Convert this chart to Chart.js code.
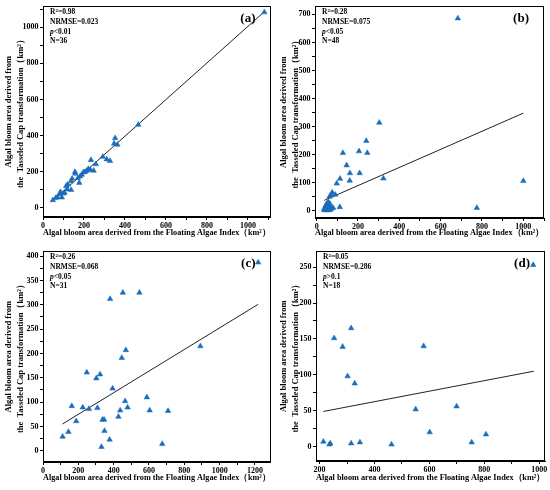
<!DOCTYPE html>
<html>
<head>
<meta charset="utf-8">
<script src="https://cdn.jsdelivr.net/npm/chart.js@4.4.1/dist/chart.umd.min.js"></script>
<style>
body { margin: 0; background: #fff; }
#wrap { position: relative; width: 550px; height: 490px; }
#wrap canvas { position: absolute; }
</style>
</head>
<body>
<div id="wrap">
  <canvas id="panelA" width="275" height="245" style="left:0;top:0"></canvas>
  <canvas id="panelB" width="275" height="245" style="left:275px;top:0"></canvas>
  <canvas id="panelC" width="275" height="245" style="left:0;top:245px"></canvas>
  <canvas id="panelD" width="275" height="245" style="left:275px;top:245px"></canvas>
</div>
<script>
// (a) FAI vs TCT areas, km2
const faiA = [48, 62, 70, 81, 85, 92, 105, 113, 118, 121, 137, 137, 142, 156, 158, 177, 181, 189, 197, 214, 221, 231, 234, 247, 258, 292, 311, 327, 347, 352, 363, 465, 1080, 100, 170, 205];
const tctA = [43, 55, 60, 76, 88, 58, 85, 121, 103, 130, 100, 148, 162, 199, 190, 139, 175, 184, 197, 206, 215, 211, 265, 206, 242, 283, 269, 260, 356, 386, 350, 460, 1082, 80, 165, 200];
const fitAx = [45, 1080];
const fitAy = [38, 1085];

// (b)
const faiB = [683, 303, 240, 245, 205, 127, 145, 161, 208, 160, 113, 97, 323, 1000, 775,
  112, 80, 75, 70, 62, 90,
  36, 38, 40, 41, 42, 44, 45, 46, 48, 49, 50, 51, 52, 53, 54, 55, 56, 57, 58, 59, 60, 62, 63, 64, 66, 68, 70];
const tctB = [686, 314, 249, 206, 212, 206, 162, 134, 134, 107, 114, 97, 115, 106, 10,
  13, 10, 65, 55, 50, 57,
  5, 2, 8, 14, 3, 10, 18, 6, 22, 2, 12, 27, 8, 16, 4, 24, 11, 30, 6, 19, 2, 14, 8, 25, 4, 12, 7];
const fitBx = [37, 1000];
const fitBy = [37, 348];

// (c)
const faiC = [111, 144, 188, 163, 225, 260, 308, 248, 302, 323, 337, 346, 348, 377, 331, 394, 446, 469, 465, 437, 479, 427, 588, 604, 708, 675, 380, 452, 546, 891, 1218];
const tctC = [29, 39, 61, 92, 89, 86, 88, 161, 149, 157, 64, 64, 41, 23, 8, 128, 191, 207, 102, 83, 89, 70, 110, 83, 82, 14, 312, 325, 325, 215, 387];
const fitCx = [110, 1218];
const fitCy = [55, 301];

// (d)
const faiD = [214, 236, 239, 253, 284, 302, 315, 315, 328, 347, 462, 550, 579, 601, 699, 754, 806, 978];
const tctD = [7, 3, 4.5, 151, 139, 98, 165, 4.5, 88, 6, 3, 52, 140, 20, 56, 6, 17, 253];
const fitDx = [214, 980];
const fitDy = [49, 105];

// tick positions and which of them carry a label
const ticksAx = [0, 100, 200, 300, 400, 500, 600, 700, 800, 900, 1000, 1100];
const labelsAx = [0, 200, 400, 600, 800, 1000];
const ticksAy = [0, 100, 200, 300, 400, 500, 600, 700, 800, 900, 1000, 1100];
const labelsAy = [0, 200, 400, 600, 800, 1000];
const ticksBx = [0, 100, 200, 300, 400, 500, 600, 700, 800, 900, 1000, 1100];
const labelsBx = [0, 200, 400, 600, 800, 1000];
const ticksBy = [0, 50, 100, 150, 200, 250, 300, 350, 400, 450, 500, 550, 600, 650, 700];
const labelsBy = [0, 100, 200, 300, 400, 500, 600, 700];
const ticksCx = [0, 100, 200, 300, 400, 500, 600, 700, 800, 900, 1000, 1100, 1200];
const labelsCx = [0, 200, 400, 600, 800, 1000, 1200];
const ticksCy = [0, 25, 50, 75, 100, 125, 150, 175, 200, 225, 250, 275, 300, 325, 350, 375, 400];
const labelsCy = [0, 50, 100, 150, 200, 250, 300, 350, 400];
const ticksDx = [200, 300, 400, 500, 600, 700, 800, 900, 1000];
const labelsDx = [200, 400, 600, 800, 1000];
const ticksDy = [0, 25, 50, 75, 100, 125, 150, 175, 200, 225, 250];
const labelsDy = [0, 50, 100, 150, 200, 250];

const statsA = ['0.98', '0.023', '<0.01', '36'];
const statsB = ['0.28', '0.075', '<0.05', '48'];
const statsC = ['0.26', '0.068', '<0.05', '31'];
const statsD = ['0.05', '0.286', '>0.1', '18'];

const xTitle = 'Algal bloom area derived from the Floating Algae Index（km²）';
const yTitle = ['Algal bloom area derived from', 'the  Tasseled Cap transformation（km²）'];
const markBlue = '#1a6dbb';

Chart.defaults.font.family = "'Liberation Serif', 'Times New Roman', serif";
Chart.defaults.color = '#000';

// box around the plot + stats text + panel tag
const annotate = {
    id: 'annotate',
    afterDraw(chart, args, opts) {
        const ctx = chart.ctx;
        const a = chart.chartArea;
        ctx.save();
        ctx.strokeStyle = '#000';
        ctx.lineWidth = 1;
        ctx.strokeRect(Math.round(a.left) + 0.5, Math.round(a.top) + 0.5,
            Math.round(a.right - a.left) - 1, Math.round(a.bottom - a.top) - 1);

        ctx.fillStyle = '#000';
        ctx.textBaseline = 'middle';
        ctx.textAlign = 'left';
        const fam = Chart.defaults.font.family;
        const x = a.left + 7;
        const s = opts.stats;
        ctx.font = 'bold 7.5px ' + fam;
        ctx.fillText('R', x, a.top + 6);
        let w = ctx.measureText('R').width;
        ctx.font = 'bold 5px ' + fam;
        ctx.fillText('2', x + w, a.top + 4);
        let w2 = ctx.measureText('2').width;
        ctx.font = 'bold 7.5px ' + fam;
        ctx.fillText('=' + s[0], x + w + w2, a.top + 6);
        ctx.fillText('NRMSE=' + s[1], x, a.top + 16);
        ctx.font = 'italic bold 7.5px ' + fam;
        ctx.fillText('p', x, a.top + 25.5);
        w = ctx.measureText('p').width;
        ctx.font = 'bold 7.5px ' + fam;
        ctx.fillText(s[2], x + w, a.top + 25.5);
        ctx.fillText('N=' + s[3], x, a.top + 35);

        ctx.font = 'bold 13px ' + fam;
        ctx.textAlign = 'right';
        ctx.fillText(opts.tag, a.right - 15, a.top + 12);
        ctx.restore();
    }
};

function makePanel(id, p) {
    const pts = p.x.map((v, i) => ({ x: v, y: p.y[i] }));
    const fit = p.fx.map((v, i) => ({ x: v, y: p.fy[i] }));
    const tickStyle = {
        font: { size: 8, weight: 'bold' },
        color: '#000',
        padding: 1.5,
        autoSkip: false,
        maxRotation: 0
    };
    const grid = { drawOnChartArea: false, tickLength: 3, color: '#000', tickColor: '#000' };
    new Chart(document.getElementById(id).getContext('2d'), {
        type: 'scatter',
        data: {
            datasets: [{
                data: pts,
                pointStyle: 'triangle',
                pointRadius: 3.2,
                backgroundColor: markBlue,
                borderColor: markBlue,
                borderWidth: 0.5
            }, {
                type: 'line',
                data: fit,
                borderColor: '#222',
                borderWidth: 1,
                pointRadius: 0,
                fill: false
            }]
        },
        options: {
            responsive: false,
            animation: false,
            layout: { padding: { left: 0, top: p.area.top, right: 275 - p.area.right, bottom: 0 } },
            plugins: {
                legend: { display: false },
                tooltip: { enabled: false },
                annotate: { stats: p.stats, tag: p.tag }
            },
            scales: {
                x: {
                    type: 'linear',
                    min: p.xr[0],
                    max: p.xr[1],
                    afterBuildTicks: s => { s.ticks = p.xt.map(v => ({ value: v })); },
                    afterFit: s => { s.height = 245 - p.area.bottom; },
                    ticks: Object.assign({}, tickStyle, {
                        callback: v => p.xl.includes(v) ? String(v) : ''
                    }),
                    grid: grid,
                    border: { display: true, color: '#000', width: 1 },
                    title: {
                        display: true,
                        text: xTitle,
                        color: '#000',
                        font: { size: 8.5, weight: 'bold', lineHeight: 1.37 },
                        padding: { top: 0, bottom: 6.2 }
                    }
                },
                y: {
                    type: 'linear',
                    min: p.yr[0],
                    max: p.yr[1],
                    afterBuildTicks: s => { s.ticks = p.yt.map(v => ({ value: v })); },
                    afterFit: s => { s.width = p.area.left; },
                    ticks: Object.assign({}, tickStyle, {
                        callback: v => p.yl.includes(v) ? String(v) : ''
                    }),
                    grid: grid,
                    border: { display: true, color: '#000', width: 1 },
                    title: {
                        display: true,
                        text: yTitle,
                        color: '#000',
                        font: { size: 8.5, weight: 'bold', lineHeight: 1.37 },
                        padding: { top: 3.2, bottom: 0 }
                    }
                }
            }
        },
        plugins: [annotate]
    });
}

makePanel('panelA', {
    x: faiA, y: tctA, fx: fitAx, fy: fitAy,
    xr: [0, 1110], yr: [-50, 1115],
    xt: ticksAx, xl: labelsAx, yt: ticksAy, yl: labelsAy,
    stats: statsA, tag: '(a)',
    area: { left: 43, right: 272, top: 2, bottom: 217 }
});
makePanel('panelB', {
    x: faiB, y: tctB, fx: fitBx, fy: fitBy,
    xr: [-8, 1100], yr: [-26, 729],
    xt: ticksBx, xl: labelsBx, yt: ticksBy, yl: labelsBy,
    stats: statsB, tag: '(b)',
    area: { left: 40, right: 269, top: 2, bottom: 218 }
});
makePanel('panelC', {
    x: faiC, y: tctC, fx: fitCx, fy: fitCy,
    xr: [0, 1288], yr: [-23, 410],
    xt: ticksCx, xl: labelsCx, yt: ticksCy, yl: labelsCy,
    stats: statsC, tag: '(c)',
    area: { left: 43, right: 272, top: 2, bottom: 217 }
});
makePanel('panelD', {
    x: faiD, y: tctD, fx: fitDx, fy: fitDy,
    xr: [187, 1021], yr: [-20, 272],
    xt: ticksDx, xl: labelsDx, yt: ticksDy, yl: labelsDy,
    stats: statsD, tag: '(d)',
    area: { left: 41, right: 270, top: 2, bottom: 216 }
});
</script>
</body>
</html>
